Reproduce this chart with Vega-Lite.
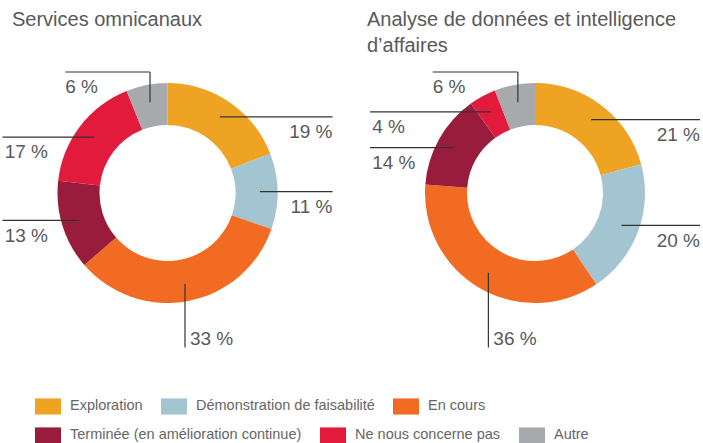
{
  "$schema": "https://vega.github.io/schema/vega-lite/v6.json",
  "padding": {"left": 1.5, "top": 10, "right": 0, "bottom": 0},
  "autosize": {"type": "pad"},
  "data": {"values": [
    {"chart": "Services omnicanaux", "cat": "Exploration", "i": 1, "v": 19},
    {"chart": "Services omnicanaux", "cat": "Démonstration de faisabilité", "i": 2, "v": 11},
    {"chart": "Services omnicanaux", "cat": "En cours", "i": 3, "v": 33},
    {"chart": "Services omnicanaux", "cat": "Terminée (en amélioration continue)", "i": 4, "v": 13},
    {"chart": "Services omnicanaux", "cat": "Ne nous concerne pas", "i": 5, "v": 17},
    {"chart": "Services omnicanaux", "cat": "Autre", "i": 6, "v": 6},
    {"chart": "Analyse", "cat": "Exploration", "i": 1, "v": 21},
    {"chart": "Analyse", "cat": "Démonstration de faisabilité", "i": 2, "v": 20},
    {"chart": "Analyse", "cat": "En cours", "i": 3, "v": 36},
    {"chart": "Analyse", "cat": "Terminée (en amélioration continue)", "i": 4, "v": 14},
    {"chart": "Analyse", "cat": "Ne nous concerne pas", "i": 5, "v": 4},
    {"chart": "Analyse", "cat": "Autre", "i": 6, "v": 6}
  ]},
  "config": {
    "view": {"stroke": null},
    "font": "Liberation Sans",
    "title": {"anchor": "start", "fontSize": 20, "fontWeight": "normal", "color": "#58595b", "lineHeight": 26, "frame": "group"},
    "legend": {
      "orient": "none", "direction": "horizontal", "title": null,
      "symbolType": "M-1,-0.62H1V0.62H-1Z", "symbolSize": 676, "symbolStrokeWidth": 0, "symbolOpacity": 1,
      "labelFontSize": 14.5, "labelColor": "#666666", "labelOffset": 9, "columnPadding": 18,
      "padding": 0, "labelLimit": 400
    }
  },
  "spacing": 33.5,
  "resolve": {"scale": {"theta": "independent", "x": "independent", "y": "independent"}},
  "hconcat": [
    {
      "title": {"text": "Services omnicanaux", "dx": 9.5, "offset": 31},
      "width": 330, "height": 264,
      "transform": [
        {"filter": "datum.chart === 'Services omnicanaux'"},
        {"window": [{"op": "sum", "field": "v", "as": "cum"}], "sort": [{"field": "i"}], "frame": [null, 0]},
        {"joinaggregate": [{"op": "sum", "field": "v", "as": "tot"}]},
        {"calculate": "2*PI*(datum.cum - datum.v/2)/datum.tot", "as": "a"},
        {"calculate": "datum.a*180/PI", "as": "deg"},
        {"calculate": "datum.deg > 340 ? 'top' : datum.deg > 235 ? 'left' : datum.deg > 140 ? 'bottom' : 'right'", "as": "side"},
        {"calculate": "0.84*sin(datum.a)", "as": "ax"},
        {"calculate": "0.84*cos(datum.a)", "as": "ay"},
        {"calculate": "datum.side === 'right' ? 1.5 : datum.side === 'left' ? -1.5 : datum.ax", "as": "bx"},
        {"calculate": "datum.side === 'bottom' ? -1.405 : datum.side === 'top' ? 1.1 : datum.ay", "as": "by"},
        {"calculate": "-0.93", "as": "cx"},
        {"calculate": "datum.side === 'right' ? 1.5 : datum.side === 'left' ? -1.48 : datum.side === 'top' ? -0.93 : datum.ax + 0.045", "as": "lx"},
        {"calculate": "datum.side === 'bottom' ? -1.33 : datum.by - 0.14", "as": "ly"},
        {"calculate": "datum.v + ' %'", "as": "lab"}
      ],
      "layer": [
        {
          "mark": {"type": "arc", "innerRadius": 68, "outerRadius": 110},
          "encoding": {
            "theta": {"field": "v", "type": "quantitative", "stack": true},
            "order": {"field": "i", "type": "quantitative"},
            "fill": {"field": "cat", "type": "nominal",
              "scale": {"domain": ["Exploration", "Démonstration de faisabilité", "En cours", "Terminée (en amélioration continue)", "Ne nous concerne pas", "Autre"],
                        "range": ["#efa323", "#a3c4d1", "#f26b22", "#9a1c3d", "#e21b3c", "#a7a9ac"]},
              "legend": {"values": ["Exploration", "Démonstration de faisabilité", "En cours"], "legendX": 32.5, "legendY": 332}}
          }
        },
        {
          "mark": {"type": "rule", "color": "#333333", "strokeWidth": 1.2},
          "encoding": {
            "x": {"field": "ax", "type": "quantitative", "scale": {"domain": [-1.5, 1.5], "nice": false, "zero": false}, "axis": null},
            "y": {"field": "ay", "type": "quantitative", "scale": {"domain": [-1.2, 1.2], "nice": false, "zero": false}, "axis": null},
            "x2": {"field": "bx"},
            "y2": {"field": "by"}
          }
        },
        {
          "transform": [{"filter": "datum.side === 'top'"}],
          "mark": {"type": "rule", "color": "#333333", "strokeWidth": 1.2},
          "encoding": {
            "x": {"field": "ax", "type": "quantitative"},
            "y": {"field": "by", "type": "quantitative"},
            "x2": {"field": "cx"},
            "y2": {"field": "by"}
          }
        },
        {
          "transform": [{"filter": "datum.side === 'right'"}],
          "mark": {"type": "text", "align": "right", "baseline": "middle", "fontSize": 19, "color": "#58595b"},
          "encoding": {
            "x": {"field": "lx", "type": "quantitative"},
            "y": {"field": "ly", "type": "quantitative"},
            "text": {"field": "lab"}
          }
        },
        {
          "transform": [{"filter": "datum.side !== 'right'"}],
          "mark": {"type": "text", "align": "left", "baseline": "middle", "fontSize": 19, "color": "#58595b"},
          "encoding": {
            "x": {"field": "lx", "type": "quantitative"},
            "y": {"field": "ly", "type": "quantitative"},
            "text": {"field": "lab"}
          }
        }
      ]
    },
    {
      "title": {"text": ["Analyse de données et intelligence", "d’affaires"], "dx": -3, "offset": 5},
      "width": 330, "height": 264,
      "transform": [
        {"filter": "datum.chart === 'Analyse'"},
        {"window": [{"op": "sum", "field": "v", "as": "cum"}], "sort": [{"field": "i"}], "frame": [null, 0]},
        {"joinaggregate": [{"op": "sum", "field": "v", "as": "tot"}]},
        {"calculate": "2*PI*(datum.cum - datum.v/2)/datum.tot", "as": "a"},
        {"calculate": "datum.a*180/PI", "as": "deg"},
        {"calculate": "datum.deg > 340 ? 'top' : datum.deg > 235 ? 'left' : datum.deg > 140 ? 'bottom' : 'right'", "as": "side"},
        {"calculate": "0.84*sin(datum.a)", "as": "ax"},
        {"calculate": "0.84*cos(datum.a)", "as": "ay"},
        {"calculate": "datum.side === 'right' ? 1.5 : datum.side === 'left' ? -1.5 : datum.ax", "as": "bx"},
        {"calculate": "datum.side === 'bottom' ? -1.405 : datum.side === 'top' ? 1.1 : datum.ay", "as": "by"},
        {"calculate": "-0.93", "as": "cx"},
        {"calculate": "datum.side === 'right' ? 1.5 : datum.side === 'left' ? -1.48 : datum.side === 'top' ? -0.93 : datum.ax + 0.045", "as": "lx"},
        {"calculate": "datum.side === 'bottom' ? -1.33 : datum.by - 0.14", "as": "ly"},
        {"calculate": "datum.v + ' %'", "as": "lab"}
      ],
      "layer": [
        {
          "mark": {"type": "arc", "innerRadius": 68, "outerRadius": 110},
          "encoding": {
            "theta": {"field": "v", "type": "quantitative", "stack": true},
            "order": {"field": "i", "type": "quantitative"},
            "color": {"field": "cat", "type": "nominal",
              "scale": {"domain": ["Terminée (en amélioration continue)", "Ne nous concerne pas", "Autre", "Exploration", "Démonstration de faisabilité", "En cours"],
                        "range": ["#9a1c3d", "#e21b3c", "#a7a9ac", "#efa323", "#a3c4d1", "#f26b22"]},
              "legend": {"values": ["Terminée (en amélioration continue)", "Ne nous concerne pas", "Autre"], "legendX": 32.5, "legendY": 361}}
          }
        },
        {
          "mark": {"type": "rule", "color": "#333333", "strokeWidth": 1.2},
          "encoding": {
            "x": {"field": "ax", "type": "quantitative", "scale": {"domain": [-1.5, 1.5], "nice": false, "zero": false}, "axis": null},
            "y": {"field": "ay", "type": "quantitative", "scale": {"domain": [-1.2, 1.2], "nice": false, "zero": false}, "axis": null},
            "x2": {"field": "bx"},
            "y2": {"field": "by"}
          }
        },
        {
          "transform": [{"filter": "datum.side === 'top'"}],
          "mark": {"type": "rule", "color": "#333333", "strokeWidth": 1.2},
          "encoding": {
            "x": {"field": "ax", "type": "quantitative"},
            "y": {"field": "by", "type": "quantitative"},
            "x2": {"field": "cx"},
            "y2": {"field": "by"}
          }
        },
        {
          "transform": [{"filter": "datum.side === 'right'"}],
          "mark": {"type": "text", "align": "right", "baseline": "middle", "fontSize": 19, "color": "#58595b"},
          "encoding": {
            "x": {"field": "lx", "type": "quantitative"},
            "y": {"field": "ly", "type": "quantitative"},
            "text": {"field": "lab"}
          }
        },
        {
          "transform": [{"filter": "datum.side !== 'right'"}],
          "mark": {"type": "text", "align": "left", "baseline": "middle", "fontSize": 19, "color": "#58595b"},
          "encoding": {
            "x": {"field": "lx", "type": "quantitative"},
            "y": {"field": "ly", "type": "quantitative"},
            "text": {"field": "lab"}
          }
        }
      ]
    }
  ]
}
